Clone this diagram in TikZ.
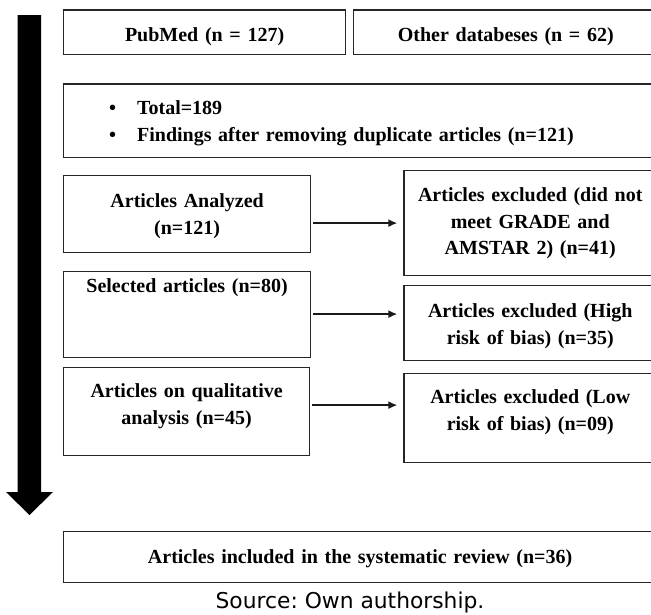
\documentclass[tikz,border=0pt]{standalone}
\usepackage{fontspec}
\setmainfont{Liberation Serif}
\newfontfamily\sourcefont{DejaVu Sans}
\usetikzlibrary{positioning}
\usetikzlibrary{arrows.meta}

\begin{document}
\begin{tikzpicture}[x=1pt, y=-1pt,
		block/.style={rectangle, draw=black!85, line width=1.2pt, anchor=north west, align=center, inner xsep=6pt, inner ysep=0pt, font=\fontsize{20}{26.7}\selectfont\bfseries},
		arrow/.style={-{Latex[length=9pt,width=8pt]}, line width=1.5pt, draw=black!90, shorten <=2pt, shorten >=6pt}
	]
		\useasboundingbox (0,0) rectangle (651,614);
		\clip (0,0) rectangle (651,614);

		% flow direction
		\fill (17.7,15) -- (41,15) -- (41,492) -- (53,492) -- (29.5,515) -- (6,492) -- (17.7,492) -- cycle;

		\node[block, text width=270pt, text height=31.7pt, text depth=13pt] (pubmed) at (63,9.3) {PubMed (n = 127)};
		\node[block, text width=292pt, text height=31.7pt, text depth=13pt, right=7pt of pubmed] (other) {Other databeses (n = 62)};
		\node[block, align=left, inner xsep=45.5pt, text width=502pt, text height=30.7pt, text depth=42.7pt] (total) at (63,83.3) {\textbullet\hspace{21pt}Total=189\\\textbullet\hspace{21pt}Findings after removing duplicate articles (n=121)};

		\node[block, text width=235pt, text height=31.7pt, text depth=44.8pt] (analyzed) at (63,175) {Articles Analyzed\\(n=121)};
		\node[block, text width=235pt, text height=20.7pt, text depth=65.3pt] (selected) at (63,271) {Selected articles (n=80)};
		\node[block, text width=234pt, text height=30.2pt, text depth=58.3pt] (qualit) at (63,366.5) {Articles on qualitative\\analysis (n=45)};

		\node[block, text width=240.7pt, text height=30.7pt, text depth=74.3pt] (excl1) at (403.3,170) {Articles excluded (did not\\meet GRADE and\\AMSTAR 2) (n=41)};
		\node[block, text width=240.7pt, text height=31.7pt, text depth=43.3pt] (excl2) at (403.3,285) {Articles excluded (High\\risk of bias) (n=35)};
		\node[block, text width=240.7pt, text height=30.6pt, text depth=58.4pt] (excl3) at (403.3,372.7) {Articles excluded (Low\\risk of bias) (n=09)};

		\node[block, text width=581pt, text height=32pt, text depth=19pt] (included) at (63,530.7) {Articles included in the systematic review (n=36)};
		\node[anchor=base, inner sep=0pt, font=\sourcefont\fontsize{21.8}{25}\selectfont] (source) at (350,608) {Source:\ Own authorship.};

		\draw[arrow] (analyzed.east |- excl1.west) -- (excl1.west);
		\draw[arrow] ([yshift=0.5pt]selected.east) -- ([yshift=0.5pt]selected.east -| excl2.west);
		\draw[arrow] ([yshift=6.25pt]qualit.east) -- ([yshift=6.25pt]qualit.east -| excl3.west);
	\end{tikzpicture}
\end{document}
